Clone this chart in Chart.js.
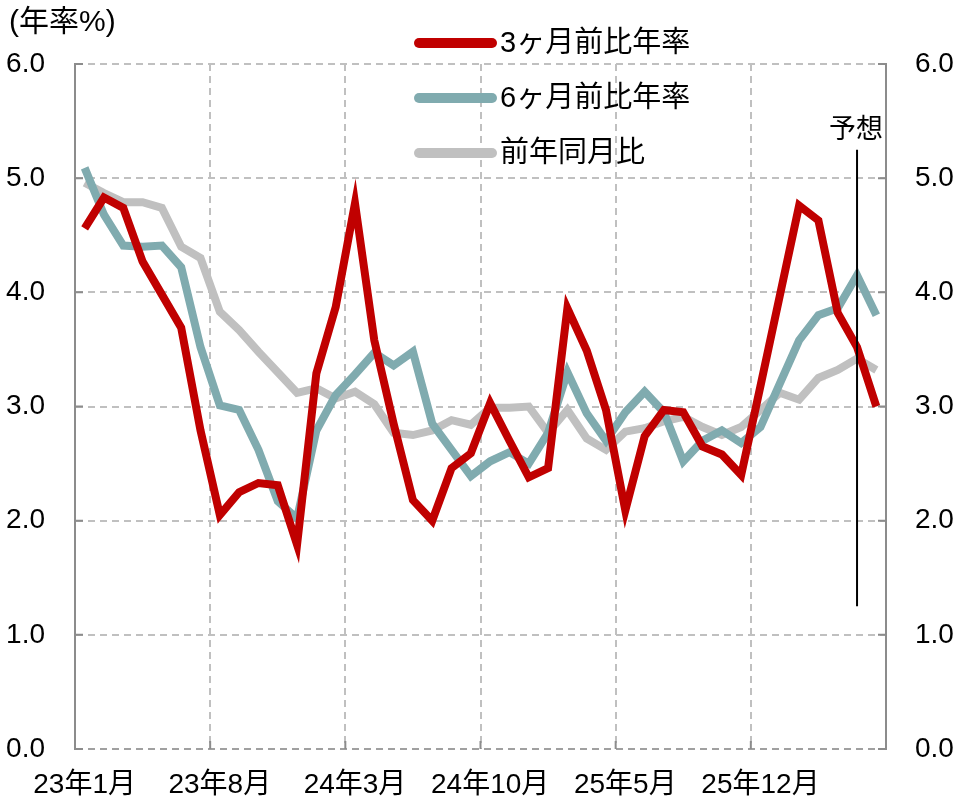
<!DOCTYPE html>
<html>
<head>
<meta charset="utf-8">
<script src="https://cdn.jsdelivr.net/npm/chart.js@4"></script>
<style>
  html, body { margin: 0; padding: 0; background: #fff; }
  #wrap { width: 959px; height: 805px; }
</style>
</head>
<body>
<div id="wrap"><canvas id="chart" width="959" height="805"></canvas></div>
<script>
// ===== DATA =====
const months = [
  "23年1月", "23年2月", "23年3月", "23年4月", "23年5月", "23年6月", "23年7月",
  "23年8月", "23年9月", "23年10月", "23年11月", "23年12月", "24年1月", "24年2月",
  "24年3月", "24年4月", "24年5月", "24年6月", "24年7月", "24年8月", "24年9月",
  "24年10月", "24年11月", "24年12月", "25年1月", "25年2月", "25年3月", "25年4月",
  "25年5月", "25年6月", "25年7月", "25年8月", "25年9月", "25年10月", "25年11月",
  "25年12月", "26年1月", "26年2月", "26年3月", "26年4月", "26年5月", "26年6月"
];
const rate3m = [
  4.56, 4.83, 4.74, 4.27, 3.98, 3.69, 2.79, 2.05, 2.25, 2.33, 2.31, 1.79, 3.29, 3.87,
  4.78, 3.58, 2.85, 2.18, 2.0, 2.46, 2.59, 3.03, 2.7, 2.38, 2.46, 3.86, 3.49, 2.97,
  2.09, 2.74, 2.97, 2.95, 2.65, 2.58, 2.4, 3.18, 3.97, 4.76, 4.63, 3.82, 3.52, 3.0
];
const rate6m = [
  5.09, 4.68, 4.41, 4.40, 4.41, 4.22, 3.52, 3.01, 2.97, 2.62, 2.17, 2.02, 2.79, 3.1,
  3.28, 3.47, 3.36, 3.48, 2.85, 2.62, 2.39, 2.52, 2.6, 2.5, 2.77, 3.3, 2.94, 2.7,
  2.95, 3.13, 2.95, 2.52, 2.7, 2.79, 2.68, 2.82, 3.2, 3.58, 3.8, 3.86, 4.15, 3.8
];
const rateYoY = [
  4.96, 4.87, 4.79, 4.79, 4.74, 4.4, 4.3, 3.83, 3.67, 3.48, 3.3, 3.12, 3.16, 3.07,
  3.13, 3.02, 2.77, 2.75, 2.79, 2.88, 2.84, 2.99, 2.99, 3.0, 2.77, 2.97, 2.72, 2.62,
  2.78, 2.81, 2.87, 2.91, 2.82, 2.75, 2.82, 2.97, 3.12, 3.06, 3.25, 3.32, 3.42, 3.32
];
const seriesNames = ["3ヶ月前比年率", "6ヶ月前比年率", "前年同月比"];
const yTicks = [0, 1, 2, 3, 4, 5, 6];
const labelEvery = 7;
const forecastIndex = 40;
const forecastRange = [1.25, 5.25];

// ===== STYLE =====
const FONT = "'Liberation Sans', Arial, 'Noto Sans CJK JP', sans-serif";
Chart.defaults.font.family = FONT;
Chart.defaults.font.size = 28;
Chart.defaults.color = "#000";

const gridColor = "#c0c0c0";
const axisColor = "#8c8c8c";
const dash = [7, 5];

// ===== PLUGIN: judul, legenda, garis perkiraan =====
const extras = {
  id: "extras",
  afterDraw(chart) {
    const ctx = chart.ctx;
    const x = chart.scales.x, y = chart.scales.y;
    const area = chart.chartArea;
    ctx.save();

    // tick kecil di dalam sumbu
    ctx.strokeStyle = axisColor;
    ctx.lineWidth = 2;
    ctx.beginPath();
    yTicks.forEach(v => {
      const py = y.getPixelForValue(v);
      ctx.moveTo(area.left, py); ctx.lineTo(area.left + 8, py);
      ctx.moveTo(area.right - 8, py); ctx.lineTo(area.right, py);
    });
    for (let i = labelEvery; i < months.length; i += labelEvery) {
      const px = (x.getPixelForValue(i - 1) + x.getPixelForValue(i)) / 2;
      ctx.moveTo(px, area.bottom); ctx.lineTo(px, area.bottom - 8);
    }
    ctx.stroke();

    // garis perkiraan
    const fx = x.getPixelForValue(forecastIndex);
    const fTop = y.getPixelForValue(forecastRange[1]);
    ctx.strokeStyle = "#000";
    ctx.lineWidth = 2;
    ctx.beginPath();
    ctx.moveTo(fx, fTop);
    ctx.lineTo(fx, y.getPixelForValue(forecastRange[0]));
    ctx.stroke();

    ctx.fillStyle = "#000";
    ctx.font = "27px " + FONT;
    ctx.textAlign = "center";
    ctx.textBaseline = "middle";
    ctx.fillText("予想", fx - 1, fTop - 19);

    // satuan
    ctx.textAlign = "left";
    ctx.font = "30px " + FONT;
    ctx.fillText("(年率%)", 9, 23);

    // legenda
    chart.data.datasets.forEach((ds, i) => {
      const ly = 43 + i * 55;
      ctx.strokeStyle = ds.borderColor;
      ctx.lineWidth = 10;
      ctx.lineCap = "round";
      ctx.beginPath();
      ctx.moveTo(419, ly);
      ctx.lineTo(492, ly);
      ctx.stroke();
      ctx.fillStyle = "#000";
      ctx.font = "29px " + FONT;
      ctx.textAlign = "left";
      ctx.fillText(ds.label, 500, ly + 1);
    });
    ctx.restore();
  }
};

// ===== CHART =====
const ctx = document.getElementById("chart").getContext("2d");
new Chart(ctx, {
  type: "line",
  data: {
    labels: months,
    datasets: [
      { label: seriesNames[0], data: rate3m, borderColor: "#c00000", yAxisID: "y" },
      { label: seriesNames[1], data: rate6m, borderColor: "#80abaf", yAxisID: "y" },
      { label: seriesNames[2], data: rateYoY, borderColor: "#c0c0c0", yAxisID: "y" }
    ]
  },
  options: {
    responsive: false,
    animation: false,
    layout: { padding: { top: 64, left: 0, right: 0, bottom: 0 } },
    elements: {
      line: { borderWidth: 8, tension: 0, fill: false },
      point: { radius: 0, hoverRadius: 0 }
    },
    plugins: {
      legend: { display: false },
      tooltip: { enabled: false }
    },
    scales: {
      x: {
        type: "category",
        offset: true,
        afterFit: s => { s.height = 56; },
        grid: {
          offset: true,
          drawTicks: false,
          lineWidth: 2,
          color: c => (c.index % labelEvery === 0 && c.index > 0 && c.index < months.length) ? gridColor : "transparent"
        },
        border: { display: false, dash: dash },
        ticks: {
          autoSkip: false,
          maxRotation: 0,
          padding: 19,
          font: { size: 28 },
          callback: (v, i) => (i % labelEvery === 0 ? months[i] : "")
        }
      },
      y: {
        position: "left",
        min: 0,
        max: 6,
        afterFit: s => { s.width = 75; },
        afterBuildTicks: s => { s.ticks = yTicks.map(v => ({ value: v })); },
        grid: {
          drawTicks: false,
          lineWidth: 2,
          color: c => (c.tick && c.tick.value === 0 ? "#a0a0a0" : gridColor)
        },
        border: { color: axisColor, width: 2, dash: dash },
        ticks: { padding: 30, callback: v => v.toFixed(1) }
      },
      y2: {
        position: "right",
        min: 0,
        max: 6,
        afterFit: s => { s.width = 73; },
        afterBuildTicks: s => { s.ticks = yTicks.map(v => ({ value: v })); },
        grid: { display: false, drawTicks: false },
        border: { color: axisColor, width: 2 },
        ticks: { padding: 29, callback: v => v.toFixed(1) }
      }
    }
  },
  plugins: [extras]
});
</script>
</body>
</html>
